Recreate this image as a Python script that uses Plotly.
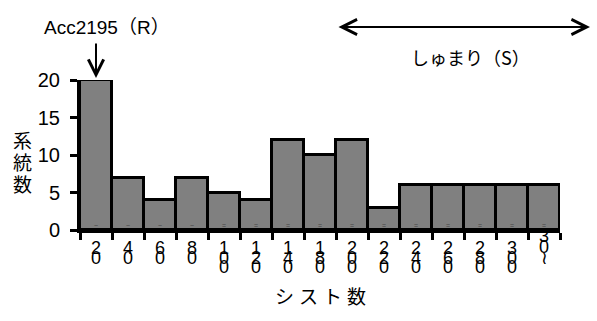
import plotly.graph_objects as go

# ---- data ----
categories = ["20", "40", "60", "80", "100", "120", "140", "180", "200",
              "220", "240", "260", "280", "300", "30≀"]
counts = [20, 7, 4, 7, 5, 4, 12, 10, 12, 3, 6, 6, 6, 6, 6]
y_ticks = [0, 5, 10, 15, 20]
y_title = "系統数"
x_title = "シスト数"
note_r = "Acc2195（R）"
note_s = "しゅまり（S）"

FONT = "Arial, 'Liberation Sans', 'Noto Sans CJK JP', sans-serif"
JFONT = "'Noto Sans CJK JP', Arial, sans-serif"

W, H = 597, 321
L, R, T, B = 80, 37, 80, 91
PW = W - L - R
PH = H - T - B
BASE = T + PH  # pixel row of y=0


def py(pix):
    """pixel row -> paper y"""
    return (BASE - pix) / PH


def px(pix):
    """pixel column -> paper x"""
    return (pix - L) / PW


n = len(categories)
xs = list(range(n))

fig = go.Figure()
fig.add_trace(go.Bar(
    x=xs, y=counts,
    marker=dict(color="#808080", line=dict(color="black", width=3)),
    width=1.0,
))

fig.update_layout(
    width=W, height=H,
    margin=dict(l=L, r=R, t=T, b=B),
    plot_bgcolor="white", paper_bgcolor="white",
    showlegend=False,
    bargap=0,
    font=dict(family=FONT, size=19, color="black"),
    xaxis=dict(
        range=[-0.5, n - 0.5],
        tickmode="array",
        tickvals=[i - 0.5 for i in range(n + 1)],
        ticktext=["" for _ in range(n + 1)],
        ticks="outside", ticklen=7, tickwidth=3, tickcolor="black",
        showline=True, linewidth=3, linecolor="black",
        showgrid=False, zeroline=False,
    ),
    yaxis=dict(
        range=[0, 20],
        tickmode="array", tickvals=y_ticks,
        ticktext=[str(v) for v in y_ticks],
        ticks="outside", ticklen=7, tickwidth=3, tickcolor="black",
        showline=True, linewidth=3, linecolor="black",
        showgrid=False, zeroline=False,
        tickfont=dict(size=20),
        ticklabelstandoff=6,
    ),
)

ann = []
# stacked tick labels (overlapping digits, drawn character by character)
for i, lab in enumerate(categories):
    chars = list(lab)
    last = (i == n - 1)
    step = 11 if last else 9.5
    start = 233 if last else 245
    for k, ch in enumerate(chars):
        cy = start + k * step + 3
        ann.append(dict(
            x=i, xref="x", y=0, yref="y", yanchor="middle",
            yshift=-(cy - BASE),
            text=ch, showarrow=False,
            font=dict(size=18, family=FONT, color="black"),
        ))
    ann.append(dict(
        x=i, xref="x", y=0, yref="y", yanchor="middle", yshift=5,
        text="~" if len(lab) == 2 else "=",
        showarrow=False, font=dict(size=7, color="#444"),
    ))

# y title stacked vertically
for k, ch in enumerate(y_title):
    ann.append(dict(
        x=px(22), xref="paper", y=py(139 + 22 * k), yref="paper",
        xanchor="center", yanchor="middle",
        text=ch, showarrow=False, font=dict(size=19, family=JFONT),
    ))
# x title, spaced characters
for k, ch in enumerate(x_title):
    ann.append(dict(
        x=px(284 + 24 * k), xref="paper", y=py(295), yref="paper",
        xanchor="center", yanchor="middle",
        text=ch, showarrow=False, font=dict(size=19, family=JFONT),
    ))
# Acc2195 (R) label and arrow
ann.append(dict(
    x=px(107), xref="paper", y=py(27), yref="paper",
    xanchor="center", yanchor="middle",
    text=note_r, showarrow=False, font=dict(size=19, family=FONT),
))
ann.append(dict(
    x=0, xref="x", y=counts[0], yref="y", yshift=2,
    ax=0, ay=-36, axref="pixel", ayref="pixel",
    text="", showarrow=True, arrowhead=5, arrowsize=1.5,
    arrowwidth=2, arrowcolor="black", standoff=0,
))
# しゅまり (S) double arrow
ann.append(dict(
    x=px(590), xref="paper", y=py(27), yref="paper",
    ax=-(590 - 337), ay=0, axref="pixel", ayref="pixel",
    text="", showarrow=True, arrowhead=5, startarrowhead=5,
    arrowside="end+start", arrowsize=1.5, startarrowsize=1.5,
    arrowwidth=2, arrowcolor="black",
))
ann.append(dict(
    x=px(470), xref="paper", y=py(57), yref="paper",
    xanchor="center", yanchor="middle",
    text=note_s, showarrow=False, font=dict(size=18, family=JFONT),
))

fig.update_layout(annotations=ann)
fig.write_html("out.html",
               config={"displayModeBar": False},
               post_script="document.body.style.margin='0px';"
                           "document.body.style.padding='0px';")
